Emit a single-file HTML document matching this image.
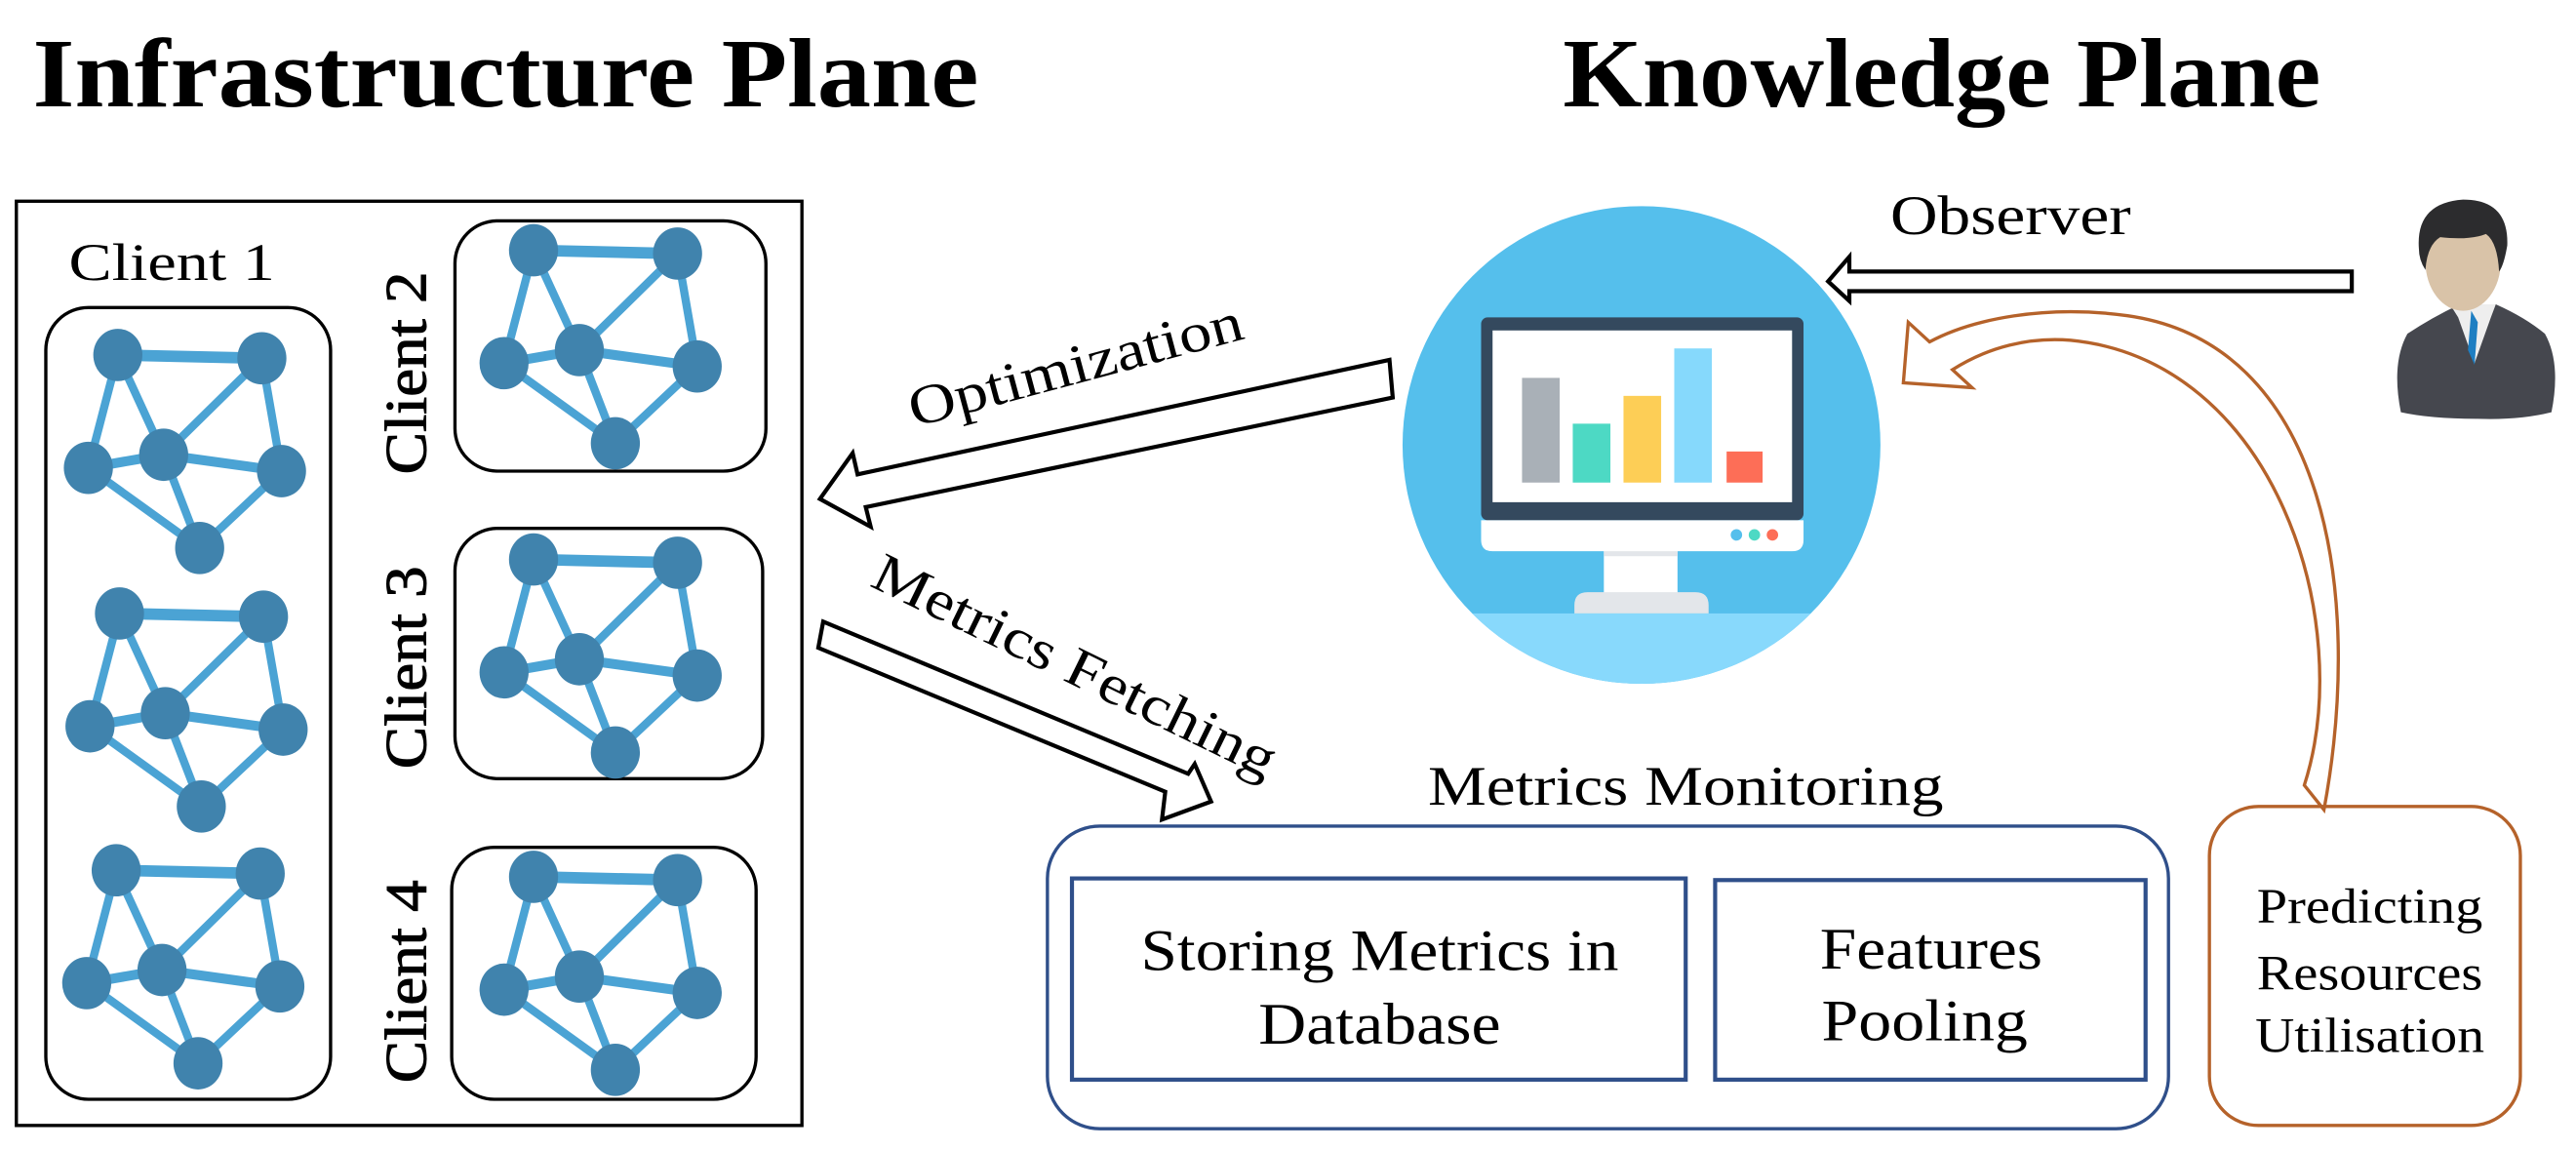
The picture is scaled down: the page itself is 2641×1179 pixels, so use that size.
<!DOCTYPE html>
<html><head><meta charset="utf-8"><style>html,body{margin:0;padding:0;background:#fff}svg{display:block}</style></head>
<body>
<svg width="2641" height="1179" viewBox="0 0 1574 703" preserveAspectRatio="none" xmlns="http://www.w3.org/2000/svg" font-family="'Liberation Serif', serif">
<defs>
<g id="g">
<g stroke="#4ba3d4" stroke-width="5" fill="none">
<line x1="0" y1="0" x2="88" y2="2" stroke-width="7"/>
<line x1="0" y1="0" x2="-18" y2="69"/>
<line x1="0" y1="0" x2="28" y2="61"/>
<line x1="28" y1="61" x2="88" y2="2"/>
<line x1="88" y1="2" x2="100" y2="71"/>
<line x1="-18" y1="69" x2="28" y2="61" stroke-width="6"/>
<line x1="28" y1="61" x2="100" y2="71" stroke-width="6"/>
<line x1="-18" y1="69" x2="50" y2="118"/>
<line x1="28" y1="61" x2="50" y2="118"/>
<line x1="100" y1="71" x2="50" y2="118"/>
</g>
<g fill="#4083ad">
<ellipse cx="0" cy="0" rx="15" ry="16"/>
<ellipse cx="88" cy="2" rx="15" ry="16"/>
<ellipse cx="-18" cy="69" rx="15" ry="16"/>
<ellipse cx="28" cy="61" rx="15" ry="16"/>
<ellipse cx="100" cy="71" rx="15" ry="16"/>
<ellipse cx="50" cy="118" rx="15" ry="16"/>
</g>
</g>
</defs>
<text x="20" y="65" font-size="60" font-weight="bold" textLength="578" lengthAdjust="spacingAndGlyphs">Infrastructure Plane</text>
<text x="955" y="65" font-size="60" font-weight="bold" textLength="463" lengthAdjust="spacingAndGlyphs">Knowledge Plane</text>

<rect x="10" y="123" width="480" height="565" fill="none" stroke="#000" stroke-width="2"/>
<text x="42" y="171" font-size="32" textLength="126" lengthAdjust="spacingAndGlyphs">Client 1</text>
<rect x="28" y="188" width="174" height="484" rx="26" fill="none" stroke="#000" stroke-width="2"/>
<rect x="278" y="135" width="190" height="153" rx="26" fill="none" stroke="#000" stroke-width="2"/>
<rect x="278" y="323" width="188" height="153" rx="26" fill="none" stroke="#000" stroke-width="2"/>
<rect x="276" y="518" width="186" height="154" rx="26" fill="none" stroke="#000" stroke-width="2"/>
<text transform="translate(260,228) rotate(-90)" font-size="36" text-anchor="middle" textLength="124" lengthAdjust="spacingAndGlyphs" stroke="#000" stroke-width="0.6">Client 2</text>
<text transform="translate(260,408) rotate(-90)" font-size="36" text-anchor="middle" textLength="124" lengthAdjust="spacingAndGlyphs" stroke="#000" stroke-width="0.6">Client 3</text>
<text transform="translate(260,600) rotate(-90)" font-size="36" text-anchor="middle" textLength="124" lengthAdjust="spacingAndGlyphs" stroke="#000" stroke-width="0.6">Client 4</text>

<use href="#g" x="72" y="217"/>
<use href="#g" x="73" y="375"/>
<use href="#g" x="71" y="532"/>
<use href="#g" x="326" y="153"/>
<use href="#g" x="326" y="342"/>
<use href="#g" x="326" y="536"/>

<!-- Optimization arrow -->
<polygon points="849,220 851,243 529,310 532,322 501,305 521,277 524,290" fill="#fff" stroke="#000" stroke-width="2.5"/>
<text transform="translate(660,234) rotate(-15)" font-size="34" text-anchor="middle" textLength="210" lengthAdjust="spacingAndGlyphs">Optimization</text>
<!-- Metrics fetching arrow -->
<polygon points="503,380 500,396 712,484 710,501 740,490 730,467 726,473" fill="#fff" stroke="#000" stroke-width="2.5"/>
<text transform="translate(652,417) rotate(26)" font-size="34" text-anchor="middle" textLength="270" lengthAdjust="spacingAndGlyphs">Metrics Fetching</text>

<!-- monitor -->
<clipPath id="c"><circle cx="1003" cy="272" r="146"/></clipPath>
<circle cx="1003" cy="272" r="146" fill="#55bfec"/>
<rect x="850" y="375" width="310" height="60" fill="#88d9fc" clip-path="url(#c)"/>
<rect x="980" y="335" width="45" height="30" fill="#fff"/>
<rect x="980" y="335" width="45" height="5" fill="#e3e6ea"/>
<path d="M970,362 h66 q8,0 8,8 v5 h-82 v-5 q0,-8 8,-8z" fill="#e3e6ea"/>
<rect x="905" y="194" width="197" height="124" rx="4" fill="#34495e"/>
<rect x="912" y="202" width="183" height="105" fill="#fff"/>
<path d="M905,318 h197 v12 q0,7 -7,7 h-183 q-7,0 -7,-7z" fill="#fff"/>
<rect x="930" y="231" width="23" height="64" fill="#a9b0b7"/>
<rect x="961" y="259" width="23" height="36" fill="#4dd9c4"/>
<rect x="992" y="242" width="23" height="53" fill="#fdce56"/>
<rect x="1023" y="213" width="23" height="82" fill="#86d9fc"/>
<rect x="1055" y="276" width="22" height="19" fill="#fd6e57"/>
<circle cx="1061" cy="327" r="3.5" fill="#55bfec"/>
<circle cx="1072" cy="327" r="3.5" fill="#4dd9c4"/>
<circle cx="1083" cy="327" r="3.5" fill="#fd6e57"/>

<!-- Observer -->
<text x="1155" y="143" font-size="34" textLength="147" lengthAdjust="spacingAndGlyphs">Observer</text>
<polygon points="1437,166 1437,178 1130,178 1130,184 1117,172 1130,157 1130,166" fill="#fff" stroke="#000" stroke-width="2.5"/>
<!-- person -->
<g>
<path d="M1467,252 q-6,-30 4,-48 q15,-10 32,-18 h22 q18,8 30,18 q10,18 4,48 q-20,5 -46,4 q-28,0 -46,-4z" fill="#45474e"/>
<path d="M1497,186 h28 l-3,8 l-10,28 l-10,-28z" fill="#eee"/>
<path d="M1510,190 l4,7 l-2,26 l-4,-9 z" fill="#1d7ec2"/>
<ellipse cx="1505" cy="160" rx="23" ry="30" fill="#d9c3a8"/>
<path d="M1478,152 q-2,-28 27,-30 q28,0 27,28 q-2,12 -5,16 q-1,-18 -8,-23 q-10,4 -28,2 q-8,5 -9,20 q-4,-6 -4,-13z" fill="#2c2c2e"/>
</g>

<!-- brown curved arrow -->
<path d="M1420,495 C1445,360 1420,210 1300,193 C1250,186 1205,195 1179,209 L1166,197 L1163,234 L1205,237 L1193,226 C1215,212 1240,206 1265,208 C1390,220 1440,380 1408,480 z" fill="#fff" stroke="#b5622a" stroke-width="2"/>

<!-- Metrics Monitoring -->
<text x="1030" y="492" font-size="34" text-anchor="middle" textLength="315" lengthAdjust="spacingAndGlyphs">Metrics Monitoring</text>
<rect x="640" y="505" width="685" height="185" rx="32" fill="none" stroke="#2f4f8a" stroke-width="2"/>
<rect x="655" y="537" width="375" height="123" fill="none" stroke="#2f4f8a" stroke-width="2.5"/>
<rect x="1048" y="538" width="263" height="122" fill="none" stroke="#2f4f8a" stroke-width="2.5"/>
<text x="843" y="593" font-size="36" text-anchor="middle" textLength="292" lengthAdjust="spacingAndGlyphs">Storing Metrics in</text>
<text x="843" y="638" font-size="36" text-anchor="middle" textLength="148" lengthAdjust="spacingAndGlyphs">Database</text>
<text x="1180" y="592" font-size="36" text-anchor="middle" textLength="136" lengthAdjust="spacingAndGlyphs">Features</text>
<text x="1176" y="636" font-size="36" text-anchor="middle" textLength="126" lengthAdjust="spacingAndGlyphs">Pooling</text>
<rect x="1350" y="493" width="190" height="195" rx="30" fill="none" stroke="#b5622a" stroke-width="2"/>
<text x="1448" y="564" font-size="30" text-anchor="middle" textLength="138" lengthAdjust="spacingAndGlyphs">Predicting</text>
<text x="1448" y="605" font-size="30" text-anchor="middle" textLength="138" lengthAdjust="spacingAndGlyphs">Resources</text>
<text x="1448" y="643" font-size="30" text-anchor="middle" textLength="140" lengthAdjust="spacingAndGlyphs">Utilisation</text>
</svg>
</body></html>
